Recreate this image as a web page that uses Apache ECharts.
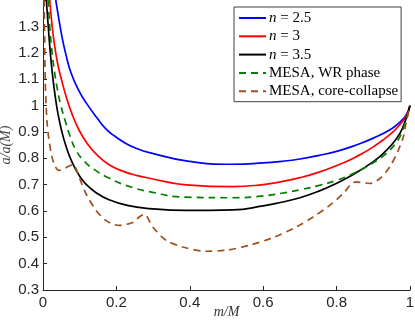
<!DOCTYPE html>
<html lang="en">
<head>
    <meta charset="UTF-8">
    <title>a/a(M) vs m/M</title>
    <script type="text/javascript" src="https://cdn.jsdelivr.net/npm/echarts@6/dist/echarts.min.js"></script>
    <style>
      html, body { margin:0; padding:0; background:#fff; }
      #chart { width:415px; height:326px; }
    </style>
</head>
<body>
<div id="chart"></div>
<script type="text/javascript">
// series names, as in the legend
var seriesNames = ['n = 2.5', 'n = 3', 'n = 3.5', 'MESA, WR phase', 'MESA, core-collapse'];
var xTicks = [0, 0.2, 0.4, 0.6, 0.8, 1];
var yTicks = [0.3, 0.4, 0.5, 0.6, 0.7, 0.8, 0.9, 1, 1.1, 1.2, 1.3];

// n = 2.5
var m25 = [0.0347,0.0437,0.0519,0.0628,0.0765,0.0984,0.120,0.1475,0.172,0.197,0.227,0.257,0.290,0.39,0.517,0.6,0.65,0.7,0.75,0.8,0.85,0.9,0.95,0.975,0.99,1.0];
var a25 = [1.400,1.324,1.259,1.191,1.123,1.054,1.005,0.952,0.910,0.882,0.855,0.836,0.821,0.790,0.777,0.782,0.788,0.797,0.810,0.826,0.848,0.876,0.912,0.940,0.965,1.0];
// n = 3
var m30 = [0.0183,0.0246,0.0314,0.0396,0.0492,0.0628,0.0792,0.0984,0.120,0.145,0.180,0.221,0.254,0.290,0.390,0.517,0.6,0.65,0.7,0.75,0.8,0.85,0.9,0.95,0.975,0.99,1.0];
var a30 = [1.400,1.305,1.229,1.161,1.104,1.035,0.967,0.906,0.857,0.815,0.775,0.749,0.735,0.724,0.699,0.692,0.700,0.711,0.726,0.746,0.772,0.803,0.843,0.895,0.932,0.960,1.0];
// n = 3.5
var m35 = [0.009,0.015,0.0205,0.026,0.0328,0.041,0.0505,0.0628,0.0792,0.0984,0.1175,0.1448,0.180,0.2295,0.290,0.390,0.517,0.6,0.65,0.7,0.75,0.8,0.85,0.9,0.93,0.96,0.98,1.0];
var a35 = [1.400,1.286,1.191,1.115,1.039,0.967,0.906,0.845,0.785,0.735,0.701,0.669,0.642,0.621,0.609,0.602,0.604,0.619,0.633,0.650,0.674,0.705,0.742,0.787,0.822,0.868,0.915,1.0];
// MESA, WR phase
var mWR = [0.0137,0.0191,0.0246,0.0314,0.0396,0.0492,0.0601,0.0738,0.0902,0.112,0.139,0.175,0.226,0.290,0.390,0.517,0.6,0.65,0.7,0.75,0.8,0.85,0.9,0.93,0.96,0.98,1.0];
var aWR = [1.400,1.286,1.203,1.127,1.058,0.997,0.944,0.883,0.830,0.789,0.758,0.728,0.697,0.673,0.652,0.650,0.657,0.667,0.680,0.696,0.716,0.745,0.783,0.812,0.855,0.905,1.0];
// MESA, core-collapse
var mCC = [0.003,0.0045,0.006,0.0085,0.011,0.0164,0.0246,0.0342,0.0437,0.0574,0.071,0.082,0.098,0.117,0.144,0.171,0.19,0.207,0.225,0.248,0.262,0.276,0.299,0.335,0.381,0.445,0.5,0.563,0.627,0.69,0.736,0.781,0.818,0.841,0.854,0.872,0.891,0.918,0.945,0.968,0.982,0.989,1.0];
var aCC = [1.40,1.25,1.10,1.0,0.937,0.868,0.804,0.766,0.754,0.760,0.770,0.776,0.729,0.666,0.603,0.564,0.550,0.545,0.548,0.558,0.577,0.587,0.539,0.489,0.463,0.447,0.451,0.470,0.499,0.539,0.577,0.621,0.666,0.704,0.710,0.707,0.704,0.723,0.767,0.830,0.881,0.932,1.0];

var colors = ['#0000ff', '#ff0000', '#000000', '#008000', '#a0501e'];
var serif = 'Liberation Serif, DejaVu Serif, serif';

function pairs(xs, ys){
  var out = [];
  for(var i=0;i<xs.length;i++){ out.push([xs[i], ys[i]]); }
  return out;
}
function onTick(v, list){
  for(var i=0;i<list.length;i++){ if(Math.abs(v-list[i])<1e-6) return true; }
  return false;
}

var chart = echarts.init(document.getElementById('chart'), null, {renderer:'canvas'});
var allX = [m25, m30, m35, mWR, mCC];
var allY = [a25, a30, a35, aWR, aCC];
var series = [];
for(var k=0;k<seriesNames.length;k++){
  series.push({
    name: seriesNames[k],
    type: 'line',
    data: pairs(allX[k], allY[k]),
    showSymbol: false,
    symbol: 'none',
    smooth: k == 4 ? 0.3 : 0.5,
    lineStyle: { color: colors[k], width: 1.7, type: k >= 3 ? [7, 5] : 'solid' },
    itemStyle: { color: colors[k] }
  });
}

var option = {
  animation: false,
  color: colors,
  grid: { left: 43, right: 5, top: 0, bottom: 36, containLabel: false, outerBoundsMode: 'none' },
  legend: {
    orient: 'vertical',
    left: 234,
    top: 7,
    padding: [3.5, 3, 3, 4],
    itemWidth: 27,
    itemHeight: 12,
    itemGap: 3.3,
    backgroundColor: '#fff',
    borderColor: '#404040',
    borderWidth: 1,
    data: seriesNames,
    itemStyle: { opacity: 0 },
    textStyle: {
      fontFamily: serif,
      fontSize: 15,
      lineHeight: 15,
      color: '#000',
      padding: [0, 0, 0, -2],
      rich: {
        i: { fontStyle: 'italic', fontFamily: serif, fontSize: 15, color: '#000' },
        t: { fontFamily: serif, fontSize: 15, color: '#000' }
      }
    },
    formatter: function(name){
      if(name.indexOf('n = ') === 0) return '{i|n}{t| = ' + name.substring(4) + '}';
      return '{t|' + name + '}';
    }
  },
  xAxis: {
    type: 'value',
    min: 0, max: 1, interval: 0.2,
    name: 'm/M',
    nameLocation: 'middle',
    nameGap: 15,
    nameMoveOverlap: false,
    nameTextStyle: { fontFamily: serif, fontStyle: 'italic', fontSize: 14, color: '#333' },
    axisLine: { lineStyle: { color: '#262626', width: 1 } },
    axisTick: { inside: true, length: 4, lineStyle: { color: '#262626' } },
    axisLabel: {
      margin: 5, fontSize: 15, color: '#262626', fontFamily: 'Liberation Sans, Arial, sans-serif',
      formatter: function(v){ return onTick(v, xTicks) ? String(+v.toFixed(1)) : ''; }
    },
    splitLine: { show: false }
  },
  yAxis: {
    type: 'value',
    min: 0.3, max: 1.4, interval: 0.1,
    name: 'a/a(M)',
    nameLocation: 'middle',
    nameGap: 30,
    nameMoveOverlap: false,
    nameTextStyle: { fontFamily: serif, fontStyle: 'italic', fontSize: 14, color: '#444' },
    axisLine: { show: true, lineStyle: { color: '#262626', width: 1 } },
    axisTick: { show: true, inside: true, length: 4, lineStyle: { color: '#262626' } },
    axisLabel: {
      margin: 4, fontSize: 15, color: '#262626', fontFamily: 'Liberation Sans, Arial, sans-serif',
      formatter: function(v){ return onTick(v, yTicks) ? String(+v.toFixed(1)) : ''; }
    },
    splitLine: { show: false }
  },
  series: series
};
chart.setOption(option);
</script>
</body>
</html>
